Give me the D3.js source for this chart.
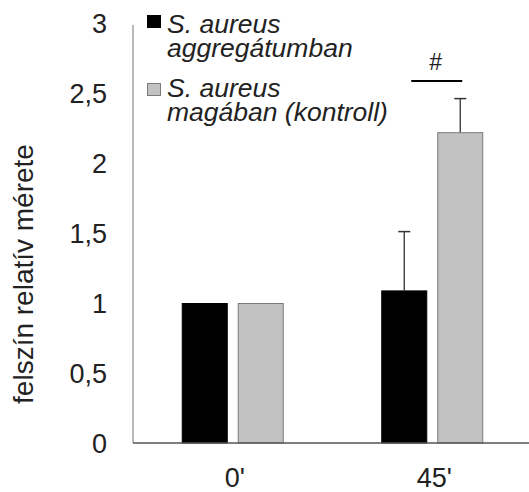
<!DOCTYPE html>
<html><head><meta charset="utf-8">
<script src="https://cdnjs.cloudflare.com/ajax/libs/d3/7.8.5/d3.min.js"></script>
<style>body{margin:0;background:#fff}svg{display:block}text{font-family:"Liberation Sans",Arial,sans-serif}</style>
</head><body><svg id="c" width="529" height="492"></svg>
<script>
const categories = ["0'", "45'"];
const seriesNames = ["S. aureus aggregátumban", "S. aureus magában (kontroll)"];
const aggregateValues = [1.0, 1.09];
const controlValues = [1.0, 2.22];
const aggregateErrors = [0, 0.42];
const controlErrors = [0, 0.24];
const yTicks = [0, 0.5, 1, 1.5, 2, 2.5, 3];
const yTickLabels = ["0", "0,5", "1", "1,5", "2", "2,5", "3"];
const yTitle = "felszín relatív mérete";
const legendLines = [["S. aureus", "aggregátumban"], ["S. aureus", "magában (kontroll)"]];

const svg = d3.select("#c");
const y = d3.scaleLinear().domain([0, 3]).range([443, 23]);
const x0 = d3.scaleBand().domain(categories).range([133, 532]).padding(0);
const bw = x0.bandwidth();
const x1 = d3.scaleBand().domain([0, 1]).range([bw / 2 - 51, bw / 2 + 51]).paddingInner(10 / 56);

const fills = ["#000000", "#c2c2c2"];
const strokes = ["#000000", "#7a7a7a"];
const vals = [aggregateValues, controlValues];
const errs = [aggregateErrors, controlErrors];

svg.append("line").attr("x1", 133).attr("x2", 133).attr("y1", 25).attr("y2", y(0)).attr("stroke", "#8a8a8a").attr("stroke-width", 1.2);

const g = svg.append("g");
categories.forEach((c, i) => {
  [0, 1].forEach(s => {
    const v = vals[s][i];
    g.append("rect")
      .attr("x", x0(c) + x1(s) + 0.5).attr("y", y(v) + 0.5)
      .attr("width", x1.bandwidth() - 1).attr("height", y(0) - y(v) - 0.5)
      .attr("fill", fills[s]).attr("stroke", strokes[s]).attr("stroke-width", 1);
    const e = errs[s][i];
    if (e > 0) {
      const cx = x0(c) + x1(s) + x1.bandwidth() / 2;
      g.append("line").attr("x1", cx).attr("x2", cx).attr("y1", y(v)).attr("y2", y(v + e)).attr("stroke", "#333").attr("stroke-width", 1.3);
      g.append("line").attr("x1", cx - 6).attr("x2", cx + 6).attr("y1", y(v + e)).attr("y2", y(v + e)).attr("stroke", "#333").attr("stroke-width", 1.5);
    }
  });
});

svg.append("line").attr("x1", 133).attr("x2", 529).attr("y1", y(0)).attr("y2", y(0)).attr("stroke", "#555").attr("stroke-width", 1.5);

svg.selectAll(".yt").data(yTicks).enter().append("text")
  .attr("x", 107).attr("y", d => y(d) + 10).attr("text-anchor", "end")
  .attr("font-size", 27).attr("fill", "#222").text((d, i) => yTickLabels[i]);

svg.selectAll(".xt").data(categories).enter().append("text")
  .attr("x", d => x0(d) + bw / 2 + 2).attr("y", 487).attr("text-anchor", "middle")
  .attr("font-size", 27).attr("fill", "#222").text(d => d);

svg.append("text").attr("transform", "translate(33,274) rotate(-90)")
  .attr("text-anchor", "middle").attr("font-size", 28).attr("fill", "#222").text(yTitle);

const sx1 = x0(categories[1]) + x1(0) + x1.bandwidth() / 2 + 7;
const sx2 = x0(categories[1]) + x1(1) + x1.bandwidth() / 2 + 2;
svg.append("line").attr("x1", sx1).attr("x2", sx2).attr("y1", 81).attr("y2", 81).attr("stroke", "#000").attr("stroke-width", 2);
svg.append("text").attr("x", (sx1 + sx2) / 2 - 1).attr("y", 70).attr("text-anchor", "middle").attr("font-size", 23).attr("fill", "#222").text("#");

const ly = [15, 83];
const lbase = [[33, 57], [97, 121]];
legendLines.forEach((lines, i) => {
  svg.append("rect").attr("x", 147.5).attr("y", ly[i] + 0.5).attr("width", 13).attr("height", 12)
    .attr("fill", fills[i]).attr("stroke", strokes[i]).attr("stroke-width", 1);
  lines.forEach((t, j) => {
    svg.append("text").attr("x", 167).attr("y", lbase[i][j]).attr("font-size", 26.5).attr("font-style", "italic").attr("fill", "#222").text(t);
  });
});
</script></body></html>
